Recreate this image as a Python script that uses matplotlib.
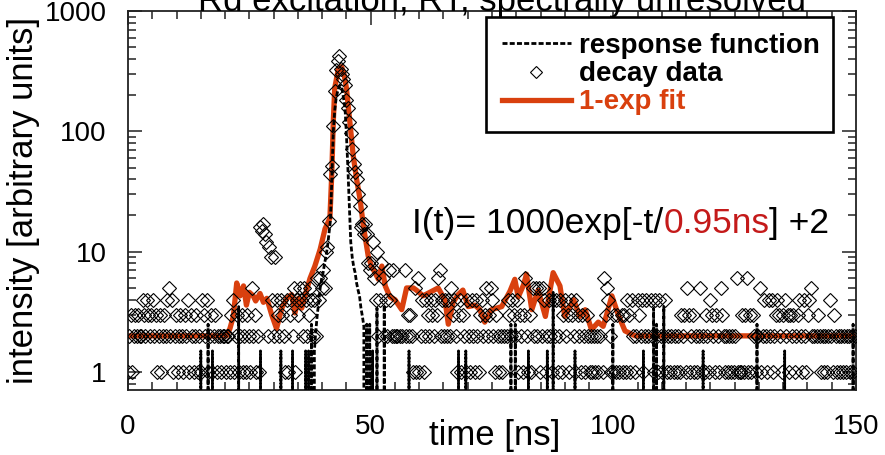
import numpy as np
import matplotlib
matplotlib.use("Agg")
import matplotlib.pyplot as plt
from matplotlib.ticker import MultipleLocator, LogLocator, NullFormatter
from matplotlib.patches import Rectangle

plt.rcParams['font.family'] = ['Liberation Sans', 'DejaVu Sans']

# ---------------- data ----------------
channel_width_ns = 0.3

# decay data: counts per 0.3 ns channel (0 = empty channel, not drawn on log axis)
decay_counts = [
    1, 2, 3, 1, 2, 3, 2, 3, 2, 2,   4, 3, 2, 4, 3, 2, 3, 4, 2, 3,
    1, 2, 3, 1, 2, 3, 2, 4, 5, 2,   4, 1, 2, 3, 1, 2, 3, 2, 1, 3,
    2, 4, 1, 3, 2, 1, 2, 3, 1, 2,   1, 4, 3, 2, 4, 1, 2, 3, 1, 2,
    3, 1, 2, 2, 1, 2, 2, 1, 2, 2,   1, 3, 4, 1, 2, 3, 1, 2, 3, 1,
    2, 1, 3, 2, 1, 5, 2, 3, 1, 2,   1, 16, 15, 17, 14, 12, 2, 11, 9, 4,
    2, 9, 4, 3, 2, 4, 3, 2, 1, 4,   1, 3, 4, 2, 5, 1, 4, 3, 5, 4,
    2, 5, 4, 2, 3, 5, 4, 2, 4, 2,   6, 4, 6, 5, 7, 5, 10, 11, 18, 44,
    52, 110, 215, 325, 383, 420, 330, 300, 270, 244,
    183, 155, 120, 96, 72, 54, 46, 40, 30, 24,
    16, 17, 14, 17, 14, 8, 7, 8, 12, 6,   4, 10, 2, 4, 8, 6, 2, 4, 2, 7,
    4, 2, 7, 2, 2, 2, 0, 2, 2, 0,   7, 2, 3, 2, 3, 2, 1, 5, 1, 6,
    1, 2, 4, 1, 2, 4, 3, 2, 4, 3,   2, 4, 3, 6, 7, 2, 4, 2, 4, 2,
    4, 2, 5, 3, 4, 2, 1, 3, 4, 1,   3, 2, 1, 4, 2, 1, 4, 2, 1, 4,
    2, 1, 3, 4, 2, 3, 5, 2, 3, 5,   4, 2, 1, 3, 2, 1, 2, 1, 2, 0,
    2, 4, 3, 2, 4, 3, 2, 4, 1, 3,   2, 1, 3, 6, 2, 1, 3, 1, 5, 2,
    5, 2, 5, 1, 2, 5, 4, 1, 2, 4,   2, 1, 4, 2, 4, 1, 2, 4, 1, 3,
    4, 2, 3, 1, 4, 3, 2, 1, 4, 3,   2, 1, 3, 2, 1, 3, 2, 1, 2, 1,
    2, 1, 2, 1, 2, 0, 1, 6, 3, 5,   4, 2, 1, 1, 3, 1, 3, 1, 0, 3,
    1, 3, 1, 4, 3, 1, 4, 2, 1, 2,   4, 3, 2, 4, 1, 2, 4, 2, 0, 4,
    2, 1, 4, 2, 1, 4, 2, 1, 2, 4,   1, 2, 1, 2, 0, 1, 2, 1, 2, 1,
    3, 2, 3, 1, 5, 3, 1, 2, 3, 1,   2, 1, 2, 5, 1, 2, 1, 3, 2, 1,
    4, 3, 2, 1, 3, 2, 1, 5, 3, 2,   1, 2, 1, 2, 1, 2, 1, 2, 6, 1,
    1, 1, 3, 1, 3, 6, 1, 3, 1, 3,   2, 1, 2, 2, 5, 1, 2, 4, 2, 1,
    4, 2, 4, 1, 2, 3, 4, 3, 2, 1,   3, 4, 2, 3, 1, 3, 2, 3, 1, 2,
    3, 4, 2, 1, 4, 2, 1, 3, 4, 5,   2, 2, 0, 2, 3, 2, 1, 2, 1, 2,
    1, 2, 4, 2, 1, 3, 2, 1, 2, 1,   2, 1, 2, 1, 2, 2, 1, 2, 1, 2,
]

# response function: non-zero channels (all other channels are 0)
resp_times = [15.0, 16.5, 17.4, 22.8, 27.3, 31.5, 33.9, 36.6, 37.2, 37.8,
              38.4, 38.7, 39.0, 39.3, 39.6, 39.9, 40.2, 40.5, 40.8, 41.1,
              41.4, 41.7, 42.0, 42.3, 42.6, 42.9, 43.2, 43.5, 43.8, 44.1,
              44.4, 44.7, 45.0, 45.3, 45.6, 45.9, 46.2, 46.5, 46.8, 47.1,
              47.4, 47.7, 48.0, 48.3, 48.6, 49.2, 49.8, 50.4, 51.3, 52.8,
              57.9, 68.1, 69.6, 78.9, 79.8, 82.5, 86.4, 87.6, 92.1, 99.9,
              106.2, 108.3, 108.9, 110.4, 118.5, 129.6, 135.3, 149.4]
resp_values = [1.5, 2.5, 1.5, 3.5, 1.5, 1.5, 1.5, 1.5, 1.5, 2.5,
               1.5, 2.2, 3.0, 3.8, 5.0, 6.0, 6.7, 8.0, 9.2, 11,
               14, 18, 40, 100, 150, 190, 215, 236, 240, 225,
               190, 160, 95, 50, 25, 12, 9, 7.5, 6.7, 5.5,
               4.8, 4.3, 3.4, 2.9, 2.4, 2.5, 2.5, 1.5, 3.4, 3.6,
               1.5, 1.5, 1.5, 2.5, 2.5, 1.5, 1.5, 4.6, 1.5, 2.5,
               1.5, 3.4, 2.5, 3.5, 1.5, 2.5, 1.5, 2.5]

# 1-exp fit curve (vertices)
fit_times = [0, 20.3, 21.0, 21.7, 22.4, 23.1, 23.8, 24.4, 25.0, 25.8,
             26.3, 27.2, 27.9, 28.6, 29.6, 30.6, 31.7, 32.7, 33.7, 34.4,
             35.1, 35.8, 36.8, 37.5, 38.5, 39.6, 40.6, 41.6, 42.0, 42.3,
             42.6, 43.3, 44.0, 44.5, 45.0, 45.7, 46.4, 47.1, 47.8, 48.5,
             49.5, 50.2, 50.9, 51.6, 52.3, 53.0, 54.0, 55.0, 56.4, 57.4,
             58.8, 59.4, 60.8, 62.2, 63.9, 65.3, 66.0, 67.0, 68.0, 69.0,
             70.1, 71.5, 72.5, 73.5, 74.9, 77.0, 78.7, 79.7, 80.4, 81.5,
             82.1, 83.2, 84.5, 86.0, 87.6, 89.0, 90.0, 91.8, 93.1, 94.2,
             95.5, 96.9, 97.9, 98.3, 99.7, 101.0, 102.4, 104.5, 150.0]
fit_values = [2.0, 2.0, 2.3, 2.9, 5.5, 4.3, 5.2, 3.6, 4.6, 4.3,
              3.9, 4.5, 3.8, 4.1, 3.0, 2.3, 3.4, 4.1, 4.4, 3.1,
              4.1, 3.4, 4.8, 6.0, 7.6, 10.5, 15.5, 19, 46, 121,
              229, 325, 345, 300, 229, 121, 63, 40, 27.5, 16.4,
              9.2, 7.5, 6.7, 5.9, 7.6, 5.2, 4.2, 4.0, 3.3, 5.0,
              5.0, 4.8, 4.3, 4.6, 5.0, 4.0, 2.5, 3.8, 4.4, 4.8,
              3.5, 3.6, 3.3, 2.6, 3.3, 3.5, 4.7, 5.9, 4.2, 5.3,
              6.5, 3.3, 4.8, 2.9, 6.7, 5.2, 2.9, 4.0, 2.9, 3.3,
              2.25, 2.6, 2.4, 2.7, 4.3, 3.0, 2.2, 2.0, 2.0]

x_ticks = [0, 50, 100, 150]
x_tick_labels = ['0', '50', '100', '150']
y_ticks = [1, 10, 100, 1000]
y_tick_labels = ['1', '10', '100', '1000']
series_labels = ['response function', 'decay data', '1-exp fit']
title_text = 'Rd excitation, RT, spectrally unresolved'
eq_parts = ['I(t)= 1000exp[-t/', '0.95ns', '] +2']

# ---------------- styling ----------------
fit_color = '#D9400E'
tau_color = '#C41A1A'
W, H = 885, 455

fig = plt.figure(figsize=(W / 100, H / 100), dpi=100)
ax = fig.add_axes([128 / W, 1 - 390 / H, 728 / W, 379 / H])
ax.set_yscale('log', nonpositive='clip')

time = np.arange(len(decay_counts)) * channel_width_ns
counts = np.array(decay_counts, dtype=float)
counts[counts <= 0] = np.nan
resp = np.zeros(len(decay_counts))
resp_idx = np.round(np.array(resp_times) / channel_width_ns).astype(int)
resp[resp_idx] = resp_values

h_fit, = ax.plot(fit_times, fit_values, color=fit_color, lw=3.8,
                 solid_joinstyle='round', zorder=2)
h_resp, = ax.plot(time, resp, color='black', lw=2.0, ls=(0, (1.8, 0.8)),
                  zorder=3)
h_data, = ax.plot(time, counts, ls='none', marker='D', ms=7.3,
                  mfc='none', mec='black', mew=0.8, zorder=4)

ax.set_xlim(0, 150)
ax.set_ylim(0.71, 1000)
ax.set_xticks(x_ticks)
ax.set_xticklabels(x_tick_labels)
ax.set_yticks(y_ticks)
ax.set_yticklabels(y_tick_labels)
ax.xaxis.set_minor_locator(MultipleLocator(5))
ax.yaxis.set_minor_locator(LogLocator(base=10, subs=np.arange(2, 10)))
ax.yaxis.set_minor_formatter(NullFormatter())

spine_col = '#222222'
for s in ax.spines.values():
    s.set_linewidth(1.3)
    s.set_color(spine_col)
ax.tick_params(which='both', direction='in', top=True, right=True,
               color=spine_col, width=1.1, labelsize=20)
ax.tick_params(which='major', length=10)
ax.tick_params(which='minor', length=5.5)
ax.tick_params(axis='x', which='major', pad=17.5)
ax.tick_params(axis='y', which='major', pad=15.5)

ax.set_xlabel('time [ns]', fontsize=25)
ax.xaxis.set_label_coords((495 - 128) / 728, (390 - 445) / 379)
ax.xaxis.label.set_va('baseline')
ax.set_ylabel('intensity [arbitrary units]', fontsize=25)
ax.yaxis.set_label_coords((40 - 128) / 728, 0.5)

fig.text(502 / W, 1 - 11 / H, title_text, fontsize=25, ha='center',
         va='baseline')

# equation with coloured decay time
t1 = ax.text((412 - 128) / 728, (390 - 233) / 379, eq_parts[0],
             transform=ax.transAxes, fontsize=25.5, va='baseline', ha='left')
t2 = ax.annotate(eq_parts[1], xy=(1, 0), xycoords=t1, fontsize=25.5,
                 va='bottom', ha='left', color=tau_color)
t3 = ax.annotate(eq_parts[2], xy=(1, 0), xycoords=t2, fontsize=25.5,
                 va='bottom', ha='left')

# legend box
box = Rectangle(((486 - 128) / 728, (390 - 131.7) / 379),
                (833 - 486) / 728, (131.7 - 16.7) / 379,
                transform=ax.transAxes, facecolor='white', edgecolor='black',
                lw=1.9, zorder=5)
ax.add_patch(box)
leg = ax.legend([h_resp, h_data, h_fit], series_labels, loc='upper left',
                bbox_to_anchor=((501.7 - 128) / 728, (390 - 33) / 379),
                frameon=False, borderpad=0, borderaxespad=0,
                handlelength=2.5, handletextpad=0.3, labelspacing=0.08,
                numpoints=1, prop={'weight': 'bold', 'size': 20})
leg.set_zorder(6)
leg.get_texts()[2].set_color(fit_color)
leg.legend_handles[1].set_markersize(6.5)

fig.savefig('out.png', dpi=100)
